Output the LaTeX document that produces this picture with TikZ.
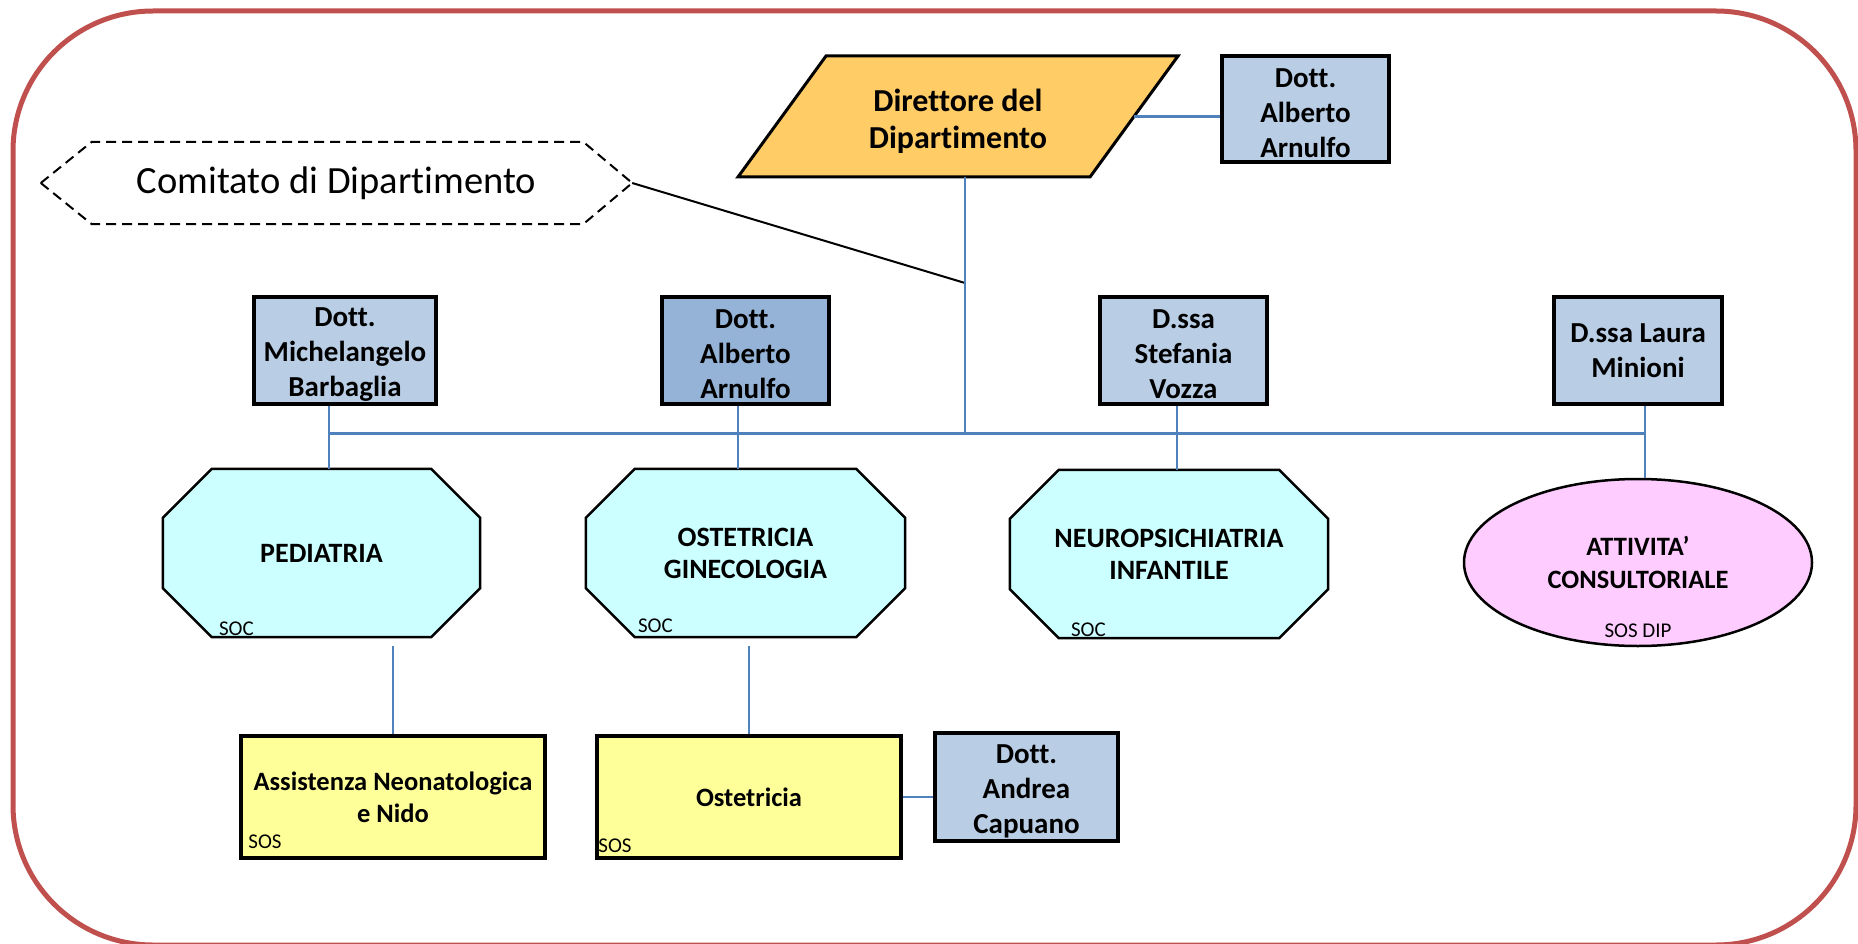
\documentclass[tikz,border=0pt]{standalone}
\usepackage{fontspec}
\setmainfont{Carlito}[Ligatures=NoCommon]
\usetikzlibrary{shapes.geometric,calc}
\pgfdeclarelayer{sfondo}
\pgfsetlayers{sfondo,main}

\definecolor{bordo}{HTML}{C0504D}
\definecolor{linea}{HTML}{4F81BD}
\definecolor{medico}{HTML}{B9CDE5}
\definecolor{medicoscuro}{HTML}{95B3D7}
\definecolor{direttore}{HTML}{FFCC66}
\definecolor{socfill}{HTML}{CCFFFF}
\definecolor{dipfill}{HTML}{FFCCFF}
\definecolor{sosfill}{HTML}{FFFF99}

% first line a bit taller, so the text sits lower in its box
\newcommand{\alza}[1]{\rule{0pt}{#1}}

\begin{document}
\begin{tikzpicture}[x=1pt, y=-1pt,
    medbox/.style={rectangle, draw, line width=3.5pt, fill=medico, align=center, inner sep=0pt, font=\fontsize{29}{35}\selectfont\bfseries},
    socbox/.style={rectangle, minimum height=168pt, inner sep=0pt, align=center, font=\fontsize{28}{32}\selectfont\bfseries},
    sosbox/.style={rectangle, draw, line width=3.5pt, fill=sosfill, minimum height=122pt, inner sep=0pt, align=center, font=\fontsize{26.5}{32}\selectfont\bfseries},
    tag/.style={inner sep=0pt, font=\fontsize{21}{22}\selectfont},
    conn/.style={linea, line width=2.5pt}]
    \useasboundingbox (0,0) rectangle (1858,944);
    \draw[bordo, line width=5pt, rounded corners=140pt] (13,11) rectangle (1856,945);

    % comitato
    \node[minimum width=591pt, minimum height=82pt, inner sep=0pt, font=\fontsize{38.5}{44}\selectfont] (comitato) at (336.5,183) {Comitato di Dipartimento};
    \draw[line width=2pt, dash pattern=on 10pt off 6pt] (comitato.west) -- ($(comitato.north west)+(51,0)$) -- ($(comitato.north east)+(-49,0)$) -- (comitato.east) -- ($(comitato.south east)+(-49,0)$) -- ($(comitato.south west)+(51,0)$) -- cycle;

    % direttore
    \draw[line width=3pt, fill=direttore] (826,56) -- (1178,56) -- (1090,177) -- (738,177) -- cycle;
    \node[minimum width=352pt, minimum height=121pt, inner sep=0pt, align=center, font=\fontsize{32}{37}\selectfont\bfseries] (dir) at (958,116.5) {\alza{32pt}Direttore del\\Dipartimento};
    \node[medbox, minimum width=167pt, minimum height=106pt] (dott1) at (1305.5,109) {\alza{27pt}Dott.\\Alberto\\Arnulfo};

    % responsabili
    \node[medbox, minimum width=182pt, minimum height=107pt] (mic) at (345,350.5) {\alza{27pt}Dott.\\Michelangelo\\Barbaglia};
    \node[medbox, fill=medicoscuro, minimum width=167pt, minimum height=107pt] (alb) at (745.5,350.5) {\alza{27pt}Dott.\\Alberto\\Arnulfo};
    \node[medbox, minimum width=167pt, minimum height=107pt] (ste) at (1183.5,350.5) {\alza{27pt}D.ssa\\Stefania\\Vozza};
    \node[medbox, minimum width=168pt, minimum height=107pt] (lau) at (1638,350.5) {D.ssa Laura\\Minioni};

    % strutture
    \node[socbox, minimum width=317pt] (ped) at (321.5,553) {PEDIATRIA};
    \node[socbox, minimum width=319pt] (ost) at (745.5,553) {OSTETRICIA\\GINECOLOGIA};
    \node[socbox, minimum width=318pt] (neu) at (1169,554) {NEUROPSICHIATRIA\\INFANTILE};
    \begin{pgfonlayer}{sfondo}
        \foreach \n in {ped,ost,neu}
            \draw[line width=2.5pt, fill=socfill] ($(\n.north west)+(49,0)$) -- ($(\n.north east)+(-49,0)$) -- ($(\n.north east)+(0,49)$) -- ($(\n.south east)+(0,-49)$) -- ($(\n.south east)+(-49,0)$) -- ($(\n.south west)+(49,0)$) -- ($(\n.south west)+(0,-49)$) -- ($(\n.north west)+(0,49)$) -- cycle;
    \end{pgfonlayer}
    \node[ellipse, draw, line width=2.5pt, fill=dipfill, minimum width=348pt, minimum height=167pt, inner sep=0pt, align=center, font=\fontsize{26.5}{33}\selectfont\bfseries] (att) at (1638,562.5) {ATTIVITA’\\CONSULTORIALE};
    \node[tag, anchor=base west] (socped) at ($(ped.south west)+(56,-2)$) {SOC};
    \node[tag, anchor=base west] (socost) at ($(ost.south west)+(52,-5)$) {SOC};
    \node[tag, anchor=base west] (socneu) at ($(neu.south west)+(61,-2)$) {SOC};
    \node[tag, anchor=base] (sosatt) at ($(att.south)+(0,-10)$) {SOS DIP};

    \node[sosbox, minimum width=304pt] (ass) at (393,797) {Assistenza Neonatologica\\e Nido};
    \node[sosbox, minimum width=304pt] (oss) at (749,797) {Ostetricia};
    \node[medbox, minimum width=183pt, minimum height=108pt] (cap) at (1026.5,787) {\alza{27pt}Dott.\\Andrea\\Capuano};
    \node[tag, anchor=base west] (sosass) at ($(ass.south west)+(9,-11)$) {SOS};
    \node[tag, anchor=base west] (sososs) at ($(oss.south west)+(3,-7)$) {SOS};

    % collegamenti
    \coordinate (cj) at (965,283);
    \coordinate (j1) at (329,433);
    \coordinate (j2) at (738,433);
    \coordinate (j3) at (1177,433);
    \coordinate (j4) at (1645,433);
    \draw[line width=2pt] (comitato.east) -- (cj);
    \draw[conn] (dir.east) -- (dir.east -| dott1.west);
    \draw[conn] (dir.south -| cj) -- (cj |- j1);
    \draw[conn, line width=3pt] (j1) -- (j4);
    \draw[conn] (mic.south -| j1) -- (ped.north -| j1);
    \draw[conn] (alb.south -| j2) -- (ost.north -| j2);
    \draw[conn] (ste.south -| j3) -- (neu.north -| j3);
    \draw[conn] (lau.south -| j4) -- (att.north -| j4);
    \draw[conn, shorten <=9pt] (ped.south -| ass.north) -- (ass.north);
    \draw[conn, shorten <=9pt] (ost.south -| oss.north) -- (oss.north);
    \draw[conn] (oss.east) -- (oss.east -| cap.west);
\end{tikzpicture}
\end{document}
